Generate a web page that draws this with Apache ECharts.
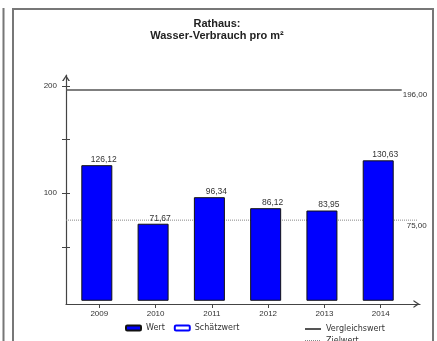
<!DOCTYPE html>
<html>
<head>
<meta charset="utf-8">
<script src="https://cdn.jsdelivr.net/npm/echarts@6/dist/echarts.min.js"></script>
<style>
  html, body { margin: 0; padding: 0; background: #fff; }
  #chart { width: 437px; height: 341px; }
</style>
</head>
<body>
<div id="chart"></div>
<script>
// data
var years = ['2009', '2010', '2011', '2012', '2013', '2014'];
var wert = [126.12, 71.67, 96.34, 86.12, 83.95, 130.63];
var schaetzwert = [];
var vergleichswert = 196;
var zielwert = 75;
var yTicks = [50, 100, 150, 200];
var yLabels = [100, 200];

// x axis runs a little past the first and last year
var xMin = -0.592, xMax = 5.698;
var vergleichEnd = 5.373, zielEnd = 5.657;
var idx = years.map(function (y, i) { return i; });

function fmt(v) { return v.toFixed(2).replace('.', ','); }

var small = { fontFamily: 'Liberation Sans', fontSize: 8, color: '#333' };
var legendText = { fontFamily: 'DejaVu Sans', fontSize: 8, color: '#333' };
var arrowUp = 'path://M0,6 L4,0 L8,6 L6.4,6 L4,2.2 L1.6,6 Z';
// line legends: only the line, no dot
var noDot = { color: 'rgba(0,0,0,0)', borderWidth: 0, opacity: 0 };

var myChart = echarts.init(document.getElementById('chart'));
myChart.setOption({
    animation: false,
    graphic: [
        { type: 'line', shape: { x1: 3.5, y1: 8, x2: 3.5, y2: 341 }, style: { stroke: '#777', lineWidth: 2 } },
        { type: 'rect', shape: { x: 13, y: 9, width: 420, height: 400 }, style: { fill: 'none', stroke: '#777', lineWidth: 2 } },
        {
            type: 'text', x: 217, y: 18,
            style: {
                text: 'Rathaus:\nWasser-Verbrauch pro m²',
                align: 'center', verticalAlign: 'top', lineHeight: 12,
                font: 'bold 11px "Liberation Sans"', fill: '#222'
            }
        }
    ],
    legend: [
        {
            data: ['Wert', 'Schätzwert'],
            left: 120, top: 319,
            itemWidth: 15, itemHeight: 5, itemGap: 9,
            textStyle: legendText
        },
        {
            data: ['Vergleichswert'],
            left: 299, top: 320,
            itemWidth: 16, itemHeight: 8,
            itemStyle: noDot,
            textStyle: legendText
        },
        {
            data: ['Zielwert'],
            left: 299, top: 332,
            itemWidth: 16, itemHeight: 8,
            itemStyle: noDot,
            textStyle: legendText
        }
    ],
    grid: { left: 66, right: 17, top: 75, bottom: 37 },
    xAxis: {
        type: 'value', min: xMin, max: xMax,
        splitLine: { show: false },
        axisLine: {
            onZero: false,
            lineStyle: { color: '#444', width: 1.2 },
            symbol: ['none', arrowUp], symbolSize: [8, 7], symbolOffset: [0, -3.5]
        },
        axisTick: { customValues: idx, length: 4, lineStyle: { color: '#444' } },
        axisLabel: Object.assign({
            customValues: idx, margin: 6,
            formatter: function (v) { return years[Math.round(v)]; }
        }, small)
    },
    yAxis: [
        {
            type: 'value', min: -3, max: 210,
            splitLine: { show: false },
            axisLine: {
                show: true, onZero: false,
                lineStyle: { color: '#444', width: 1.2 },
                symbol: ['none', arrowUp], symbolSize: [8, 6], symbolOffset: [0, -3]
            },
            axisTick: { show: true, customValues: yTicks, length: 4, lineStyle: { color: '#444' } },
            axisLabel: Object.assign({ customValues: yLabels, margin: 9 }, small)
        },
        {
            type: 'value', min: -3, max: 210, position: 'left',
            splitLine: { show: false },
            axisLine: { show: false, onZero: false },
            axisTick: { show: true, inside: true, customValues: yTicks, length: 4, lineStyle: { color: '#444' } },
            axisLabel: { show: false }
        }
    ],
    series: [
        {
            name: 'Wert', type: 'bar', barWidth: 31, barGap: 0, z: 3,
            data: wert.map(function (v, i) { return [i, v]; }),
            itemStyle: { color: '#0000ff', borderColor: '#111', borderWidth: 1 },
            label: Object.assign({
                show: true, position: 'top', distance: 1, offset: [7, 0],
                formatter: function (p) { return fmt(p.value[1]); }
            }, small, { fontSize: 8.5 })
        },
        {
            name: 'Schätzwert', type: 'bar', barWidth: 5, z: 3,
            data: schaetzwert.map(function (v, i) { return [i, v]; }),
            itemStyle: { color: '#fff', borderColor: '#0000ff', borderWidth: 1.5 }
        },
        {
            name: 'Vergleichswert', type: 'line', z: 1, symbol: 'none',
            lineStyle: { color: '#555', width: 1.5 },
            itemStyle: { color: '#555' },
            data: [[xMin, vergleichswert], [vergleichEnd, vergleichswert]],
            endLabel: Object.assign({
                show: true, distance: 1, offset: [0, 5],
                formatter: function (p) { return fmt(p.value[1]); }
            }, small)
        },
        {
            name: 'Zielwert', type: 'line', z: 1, symbol: 'none',
            lineStyle: { color: '#888', width: 1, type: [1, 1] },
            itemStyle: { color: '#888' },
            data: [[xMin, zielwert], [zielEnd, zielwert]],
            endLabel: Object.assign({
                show: true, distance: 0, offset: [-11, 6],
                formatter: function (p) { return fmt(p.value[1]); }
            }, small)
        }
    ]
});
</script>
</body>
</html>
